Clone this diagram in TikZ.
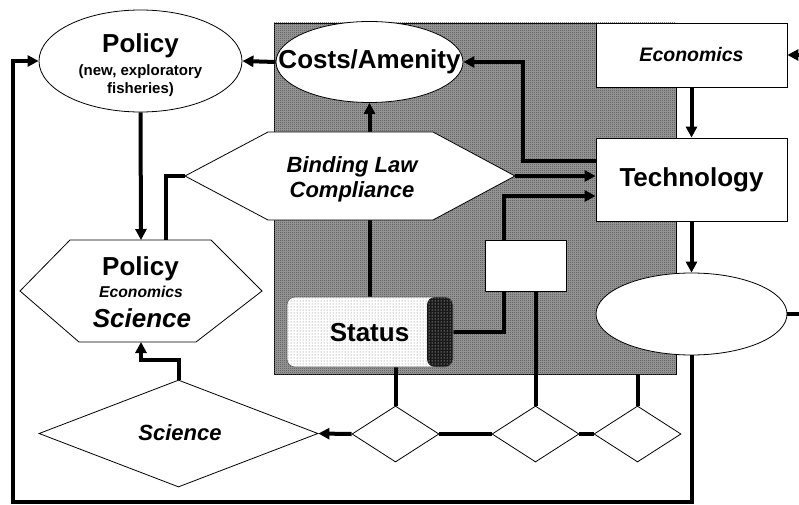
\documentclass[tikz,border=0pt]{standalone}
\usepackage{fontspec}
\setmainfont{Liberation Sans}
\usetikzlibrary{shapes.geometric,arrows.meta,patterns,calc}
\newcommand\myfs[1]{\fontsize{#1}{#1}\selectfont}
\pgfdeclarepatternformonly{finecheck}{\pgfpointorigin}{\pgfpoint{2pt}{2pt}}{\pgfpoint{2pt}{2pt}}{%
  \pgfpathrectangle{\pgfpointorigin}{\pgfpoint{1pt}{1pt}}%
  \pgfpathrectangle{\pgfpoint{1pt}{1pt}}{\pgfpoint{1pt}{1pt}}%
  \pgfusepath{fill}}
\pgfdeclarelayer{bg}
\pgfdeclarelayer{mid}
\pgfsetlayers{bg,mid,main}
\tikzset{
  conn/.style={line width=4pt},
  arr/.style={conn,-{Triangle[length=11pt,width=11pt]}},
  shp/.style={draw,line width=0.8pt,fill=white,inner sep=0pt},
  big/.style={font=\myfs{26}\bfseries},
  mid/.style={font=\myfs{22}\bfseries\itshape},
  lbl/.style={inner sep=0pt},
}
\begin{document}
\begin{tikzpicture}[x=1pt,y=-1pt]
\useasboundingbox (0,0) rectangle (799,505);

% gray zone
\begin{pgfonlayer}{bg}
\node[draw,line width=0.6pt,minimum width=402pt,minimum height=351pt,inner sep=0pt,
  fill=black!38,postaction={pattern=finecheck,pattern color=black!72}] (zone) at (475,198.5) {};
\end{pgfonlayer}

% shapes
\node[shp,ellipse,minimum width=203pt,minimum height=102pt] (polE) at (140.5,61) {};
\node[shp,ellipse,minimum width=187pt,minimum height=81pt] (costs) at (369.5,62) {};
\node[shp,rectangle,minimum width=191pt,minimum height=64pt] (econ) at (691.5,55) {};
\node[shp,rectangle,minimum width=191pt,minimum height=83pt] (tech) at (691.5,179.5) {};
\node[shp,ellipse,minimum width=191pt,minimum height=82pt] (blank) at (691.5,314) {};
\node[shp,rectangle,minimum width=81pt,minimum height=51pt] (wbox) at (525.5,265.5) {};
\node[draw=black!60,line width=0.6pt,rounded corners=8pt,minimum width=166pt,minimum height=70pt,inner sep=0pt,
  path picture={
    \fill[white] (path picture bounding box.north west) rectangle (path picture bounding box.south east);
    \fill[pattern=dots,pattern color=black!55] (path picture bounding box.north west) rectangle (path picture bounding box.south east);
    \fill[black!90] ([xshift=-26pt]path picture bounding box.north east) rectangle (path picture bounding box.south east);
    \fill[pattern=dots,pattern color=white] ([xshift=-26pt]path picture bounding box.north east) rectangle (path picture bounding box.south east);
  }] (status) at (370,332) {};
\node[shp,diamond,minimum width=87pt,minimum height=56pt] (d1) at (395.5,434) {};
\node[shp,diamond,minimum width=87pt,minimum height=56pt] (d2) at (535.5,434) {};
\node[shp,diamond,minimum width=87pt,minimum height=56pt] (d3) at (637.5,434) {};
\node[shp,diamond,minimum width=279pt,minimum height=107pt] (sci) at (178.5,433.5) {};

% hexagons
\coordinate (bindW) at (185,176);
\coordinate (bindE) at (515,176);
\draw[line width=0.8pt,fill=white] (bindW) -- (268,132) -- (433,132) -- (bindE) -- (433,220) -- (268,220) -- cycle;
\coordinate (phexN) at (141,240);
\coordinate (phexS) at (141,342);
\draw[line width=0.8pt,fill=white] (20,291) -- (70,240) -- (211,240) -- (262,291) -- (196,342) -- (79,342) -- cycle;

\coordinate (inR) at (799,55);
\coordinate (outR) at (799,314);
\coordinate (loopc) at (13,502);

% connectors
\begin{pgfonlayer}{mid}
\draw[arr] (costs.south |- status.north) -- (costs.south);
\draw[arr] ([yshift=18.5pt]tech.west) -- ++(-73,0) |- (costs.east);
\draw[arr] (status.east) -- ++(51,0) |- ([yshift=-16.5pt]tech.west);
\draw[conn] (d2.north |- wbox.south) -- (d2.north);
\draw[conn] (d3.north |- zone.south) -- (d3.north);
\draw[conn] (d1.north |- status.south) -- (d1.north);
\end{pgfonlayer}
\draw[arr] (bindE) -- (bindE -| tech.west);
\draw[arr] (costs.west) -- (polE.east);
\draw[arr] (econ.south) -- (tech.north);
\draw[arr] (tech.south) -- (blank.north);
\draw[conn] (blank.east) -- (outR);
\draw[arr] (inR) -- (econ.east);
\draw[arr] (blank.south) |- (loopc) |- (polE.west);
\draw[arr] (polE.south) -- (phexN);
\draw[conn] (bindW) -| ($(phexN)+(25,0)$);
\draw[arr] (sci.north) -- ++(0,-20) -| (phexS);
\draw[arr] (d1.west) -- (sci.east);
\draw[conn] (d1.east) -- (d2.west);
\draw[conn] (d2.east) -- (d3.west);

% texts
\node[lbl,big,anchor=base] (tpol) at (140.5,53) {Policy};
\node[lbl,font=\myfs{15}\bfseries,anchor=base] (tnew) at (140.5,76) {(new, exploratory};
\node[lbl,font=\myfs{15}\bfseries,anchor=base] (tfish) at (140.5,94) {fisheries)};
\node[lbl,big] (tcost) at (369.5,62) {Costs/Amenity};
\node[lbl,font=\myfs{19.5}\bfseries\itshape] (tecon) at (691.5,55) {Economics};
\node[lbl,big] (ttech) at (691.5,179.5) {Technology};
\node[lbl,mid,anchor=base] (tbind) at (352,172) {Binding Law};
\node[lbl,mid,anchor=base] (tcomp) at (352,197) {Compliance};
\node[lbl,big] (tstat) at (369.5,333) {Status};
\node[lbl,big,anchor=base] (tpol2) at (140.5,275) {Policy};
\node[lbl,font=\myfs{15.7}\bfseries\itshape,anchor=base] (tecon2) at (141,297) {Economics};
\node[lbl,big,font=\myfs{26}\bfseries\itshape,anchor=base] (tsci2) at (142,327) {Science};
\node[lbl,mid] (tsci) at (180,433) {Science};
\end{tikzpicture}
\end{document}
